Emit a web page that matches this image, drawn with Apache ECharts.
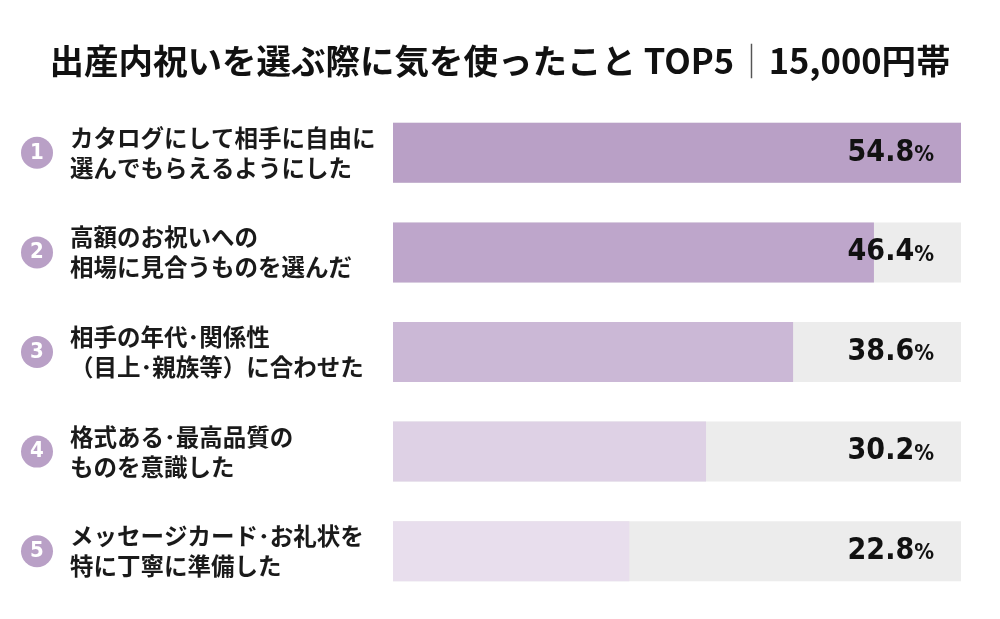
<!DOCTYPE html>
<html>
<head>
<meta charset="utf-8">
<script src="https://cdn.jsdelivr.net/npm/echarts@6/dist/echarts.min.js"></script>
<style>
html, body { margin: 0; padding: 0; background: #fff; }
#main { width: 1000px; height: 619px; }
</style>
</head>
<body>
<div id="main"></div>
<script>
// 項目（2行）
var ranks = ['1', '2', '3', '4', '5'];
var items = [
    'カタログにして相手に自由に\n選んでもらえるようにした',
    '高額のお祝いへの\n相場に見合うものを選んだ',
    '相手の年代･関係性\n（目上･親族等）に合わせた',
    '格式ある･最高品質の\nものを意識した',
    'メッセージカード･お礼状を\n特に丁寧に準備した'
];
var values = [54.8, 46.4, 38.6, 30.2, 22.8];
var barColors = ['#b9a0c6', '#bea6cb', '#cbb8d6', '#ded1e5', '#e8deed'];
var maxValue = 54.8;

var myChart = echarts.init(document.getElementById('main'));

var option = {
    animation: false,
    title: {
        text: '出産内祝いを選ぶ際に気を使ったこと TOP5{s|｜}15,000円帯',
        left: 'center',
        top: 39,
        textStyle: {
            fontFamily: 'Noto Sans CJK JP',
            fontSize: 34.5,
            fontWeight: 'bold',
            color: '#111',
            rich: {
                s: { fontSize: 34.5, fontWeight: 'normal', color: '#555', fontFamily: 'Noto Sans CJK JP' }
            }
        }
    },
    grid: { left: 393, width: 568, top: 103, height: 498 },
    xAxis: { type: 'value', min: 0, max: maxValue, show: false },
    yAxis: [{
        type: 'category',
        data: ranks,
        inverse: true,
        axisLine: { show: false },
        axisTick: { show: false },
        axisLabel: {
            align: 'left',
            margin: 372,
            formatter: function (v) { return '{c|' + v + '}'; },
            rich: {
                c: {
                    width: 32, height: 32, lineHeight: 32, borderRadius: 16,
                    backgroundColor: '#b9a0c6', color: '#fff', align: 'center',
                    fontSize: 22, fontWeight: 'bold', fontFamily: 'DejaVu Sans Condensed'
                }
            }
        }
    }, {
        type: 'category',
        data: items,
        inverse: true,
        position: 'left',
        axisLine: { show: false },
        axisTick: { show: false },
        axisLabel: {
            align: 'left',
            margin: 323,
            fontSize: 23.5,
            lineHeight: 30,
            fontWeight: 'bold',
            color: '#1a1a1a',
            fontFamily: 'Noto Sans CJK JP'
        }
    }],
    series: [{
        type: 'bar',
        data: values.map(function (v, i) { return { value: v, itemStyle: { color: barColors[i] } }; }),
        barWidth: 60,
        showBackground: true,
        backgroundStyle: { color: '#ececec' },
        z: 2
    }, {
        // 値ラベル用（透明）
        type: 'bar',
        data: values.map(function () { return maxValue; }),
        barWidth: 60,
        barGap: '-100%',
        itemStyle: { color: 'rgba(0,0,0,0)' },
        z: 3,
        label: {
            show: true,
            position: 'insideRight',
            distance: 27,
            formatter: function (p) { return '{v|' + values[p.dataIndex].toFixed(1) + '}{p|%}'; },
            rich: {
                v: { fontSize: 30, fontWeight: 'bold', color: '#111', fontFamily: 'DejaVu Sans Condensed' },
                p: { fontSize: 22, fontWeight: 'bold', color: '#111', fontFamily: 'DejaVu Sans Condensed', padding: [5, 0, 0, 0] }
            }
        }
    }]
};
myChart.setOption(option);
</script>
</body>
</html>
